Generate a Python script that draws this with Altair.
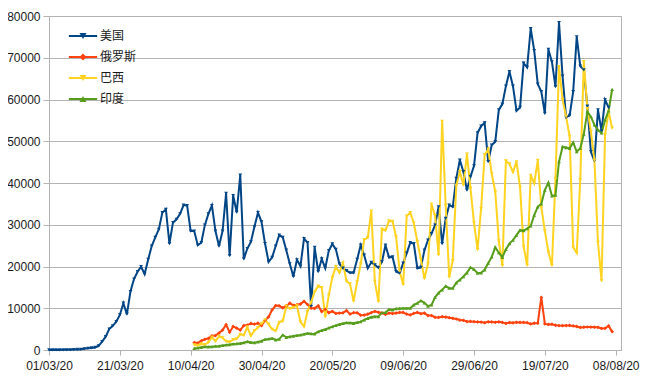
import altair as alt
import pandas as pd

# ---------------- data ----------------
start_date = "2020-03-01"
series_names = ["美国", "俄罗斯", "巴西", "印度"]
series_colors = ["#004586", "#ff420e", "#ffd320", "#579d1c"]
series_shapes = ["triangle-down", "diamond", "triangle-down", "triangle-up"]
series_first_day = [0, 41, 41, 41]  # days after start_date

us = [10, 5, 10, 20, 30, 40, 60, 100, 130, 170, 300, 400, 500, 600,
      1000, 2000, 3200, 5000, 5800, 6800, 8400,
      11200, 8600, 14000, 17000, 18750, 19950, 18200, 21700, 24900, 27000,
      28900, 32900, 33700, 25500, 30500, 31300, 32600, 34700, 34600, 28500,
      28500, 25100, 25700, 29900, 32600, 34600, 28500, 24900, 28500, 37500,
      22600, 37000, 33000, 41900, 21800, 24300, 25900, 29500, 32900, 30700,
      25500, 21100, 22200, 24900, 27500, 27000, 23900, 20600, 17600, 21600,
      20100, 26700, 25700, 10400, 24600, 18800, 21800, 19600, 23800, 25400,
      24100, 20600, 19600, 19000, 18500, 18500, 21700, 25100, 22700, 19600,
      21000, 20400, 19700, 21100, 25100, 22200, 22300, 18800, 18400, 20800,
      23200, 25700, 25500, 19600, 19800, 23900, 26300, 27900, 29900, 34300,
      25500, 31500, 34700, 34300, 41100, 45500, 42700, 38300, 41500, 44100,
      52000, 53600, 54400, 45100, 49100, 49900, 57500, 58900, 63200, 66700,
      63200, 57300, 58100, 68700, 67700, 77000, 71700, 63700, 61900, 56700,
      72000, 69000, 63100, 78400, 65600, 55700, 56200, 61900, 75000, 68000,
      67100, 58400, 47500, 45300, 57500, 52500, 59900, 58100]

russia = [1786, 1667, 2186, 2558, 2774, 3388, 3448, 4070, 4785, 6060,
          4268, 5642, 5236, 4774, 5849, 5966, 6361, 6198, 6411, 5841,
          7099, 7933, 9623, 10633, 10581, 10102, 10559, 11231, 10699, 10817,
          11012, 11656, 10899, 10028, 9974, 10598, 9200, 9709, 8926, 9263,
          8764, 8849, 8894, 9434, 8599, 8946, 8915, 8338, 8371, 8572,
          8952, 9268, 9035, 8863, 8536, 8831, 8726, 8855, 8984, 8985,
          8595, 8404, 8779, 8987, 8706, 8835, 8246, 8248, 7843, 7790,
          7972, 7889, 7728, 7600, 7425, 7176, 7113, 6800, 6852, 6791,
          6719, 6693, 6556, 6760, 6718, 6632, 6736, 6611, 6368, 6562,
          6509, 6635, 6611, 6615, 6537, 6248, 6422, 6428, 12600, 6234,
          6109, 6170, 5940, 5862, 5811, 5842, 5871, 5765, 5635, 5395,
          5475, 5509, 5482, 5462, 5427, 5159, 5204, 5750, 4400]

brazil = [1200, 1089, 1442, 1261, 1832, 3058, 2105, 3257, 2917, 2055,
          1927, 2498, 2678, 3735, 3503, 5514, 3379, 4613, 5385, 6276,
          7218, 6209, 4970, 4588, 6633, 6935, 10503, 9888, 10222, 10611,
          6760, 5632, 9258, 11385, 13944, 15305, 14919, 7938, 13140, 17408,
          19951, 18508, 20803, 16508, 15813, 11687, 16324, 20599, 26417, 26928,
          33274, 16409, 11598, 28936, 28633, 30925, 30830, 27075, 18921, 15654,
          32091, 32913, 30412, 25982, 21704, 17110, 20647, 34918, 32188, 22765,
          54771, 34666, 17459, 21432, 39436, 42725, 39483, 46907, 38693, 30476,
          24052, 33846, 46712, 48105, 42223, 37923, 26051, 20229, 45305, 44571,
          42619, 45048, 39023, 24831, 20286, 41857, 39924, 45403, 34177, 28532,
          23529, 20257, 41008, 67860, 59961, 55891, 51147, 24578, 23284, 40816,
          69074, 57837, 52383, 45392, 25800, 16641, 51603, 57152, 53139]

india = [400, 500, 650, 800, 750, 800, 900, 950, 1100, 1200,
         1300, 1450, 1500, 1600, 1750, 2000, 1850, 1750, 1950, 2150,
         2550, 2650, 2800, 2400, 2600, 3600, 3050, 3200, 3350, 3500,
         3600, 3800, 4000, 3900, 3850, 4400, 4700, 4950, 5300, 5600,
         5900, 6150, 6350, 6550, 6500, 6400, 6600, 6800, 7200, 7600,
         7900, 8000, 8000, 8950, 9000, 9750, 9600, 9900, 9950, 10000,
         10000, 10000, 10800, 11200, 11800, 11300, 10500, 10800, 12600, 13700,
         14400, 15300, 14800, 14800, 16100, 16800, 17600, 18500, 19800, 19300,
         18400, 18500, 19200, 20800, 22300, 24600, 23300, 22200, 24100, 25500,
         26300, 27500, 28700, 28600, 29100, 29700, 32300, 34300, 35000, 38300,
         40100, 36900, 37100, 45100, 48700, 48500, 48300, 49700, 47500, 48300,
         51700, 57100, 55900, 53900, 52700, 52000, 55100, 57300, 62400]

x_tick_dates = ["2020-03-01", "2020-03-21", "2020-04-10", "2020-04-30", "2020-05-20",
                "2020-06-09", "2020-06-29", "2020-07-19", "2020-08-08"]
x_domain = ["2020-03-01T00:00", "2020-08-09T12:00"]
y_ticks = [0, 10000, 20000, 30000, 40000, 50000, 60000, 70000, 80000]

# ---------------- table ----------------
rows = []
base = pd.Timestamp(start_date)
for name, first, vals in zip(series_names, series_first_day, [us, russia, brazil, india]):
    for i, v in enumerate(vals):
        d = base + pd.Timedelta(days=first + i)
        rows.append({"date": d.strftime("%Y-%m-%dT00:00:00"), "value": v, "series": name})
df = pd.DataFrame(rows)


def to_dt(s):
    t = pd.Timestamp(s)
    return alt.DateTime(year=t.year, month=t.month, date=t.day, hours=t.hour, minutes=t.minute)


FONT = "Liberation Sans"
GRID = "#b3b3b3"

x_enc = alt.X("date:T",
              scale=alt.Scale(domain=[to_dt(s) for s in x_domain]),
              axis=alt.Axis(values=[to_dt(s) for s in x_tick_dates], format="%d/%m/%y",
                            title=None, grid=False, labelFont=FONT, labelFontSize=12,
                            labelColor="#1a1a1a", domainColor=GRID, tickColor=GRID,
                            tickSize=5, labelPadding=5, labelOverlap=False,
                            labelFlush=False))
y_enc = alt.Y("value:Q",
              scale=alt.Scale(domain=[0, 80000], nice=False),
              axis=alt.Axis(values=y_ticks, format="d", title=None, grid=True,
                            gridColor=GRID, gridWidth=1, labelFont=FONT,
                            labelFontSize=12, labelColor="#1a1a1a", domainColor=GRID,
                            tickColor=GRID, tickSize=6, labelPadding=3))

LEG_X = 28
LEG_Y = 14
common_legend = dict(title=None, orient="none", legendX=LEG_X, legendY=LEG_Y,
                     symbolSize=50, labelFont="Noto Sans CJK SC", labelFontSize=12,
                     labelColor="#1a1a1a", rowPadding=9, labelOffset=11, padding=0)

lines = alt.Chart(df).mark_line(strokeWidth=2).encode(
    x=x_enc,
    y=y_enc,
    color=alt.Color("series:N",
                    scale=alt.Scale(domain=series_names, range=series_colors),
                    sort=series_names,
                    legend=alt.Legend(symbolType="M-4,0H4", symbolStrokeWidth=2,
                                      **common_legend)),
)

marker_legend = alt.Legend(labelOpacity=0, **common_legend)
points = alt.Chart(df).mark_point(filled=True, size=14, opacity=1).encode(
    x=x_enc,
    y=y_enc,
    color=alt.Color("series:N",
                    scale=alt.Scale(domain=series_names, range=series_colors),
                    sort=series_names, legend=marker_legend),
    shape=alt.Shape("series:N",
                    scale=alt.Scale(domain=series_names, range=series_shapes),
                    sort=series_names, legend=marker_legend),
)

chart = alt.layer(lines, points).resolve_scale(
    color="independent", shape="independent").resolve_legend(
    color="independent", shape="independent").properties(
    width=572, height=334,
    padding={"left": 41, "top": 8, "right": 20, "bottom": 28},
    autosize=alt.AutoSizeParams(type="none"),
    background="white",
).configure_view(stroke=GRID, strokeWidth=1)

chart.save("out.html", embed_options={"renderer": "svg", "actions": False})
